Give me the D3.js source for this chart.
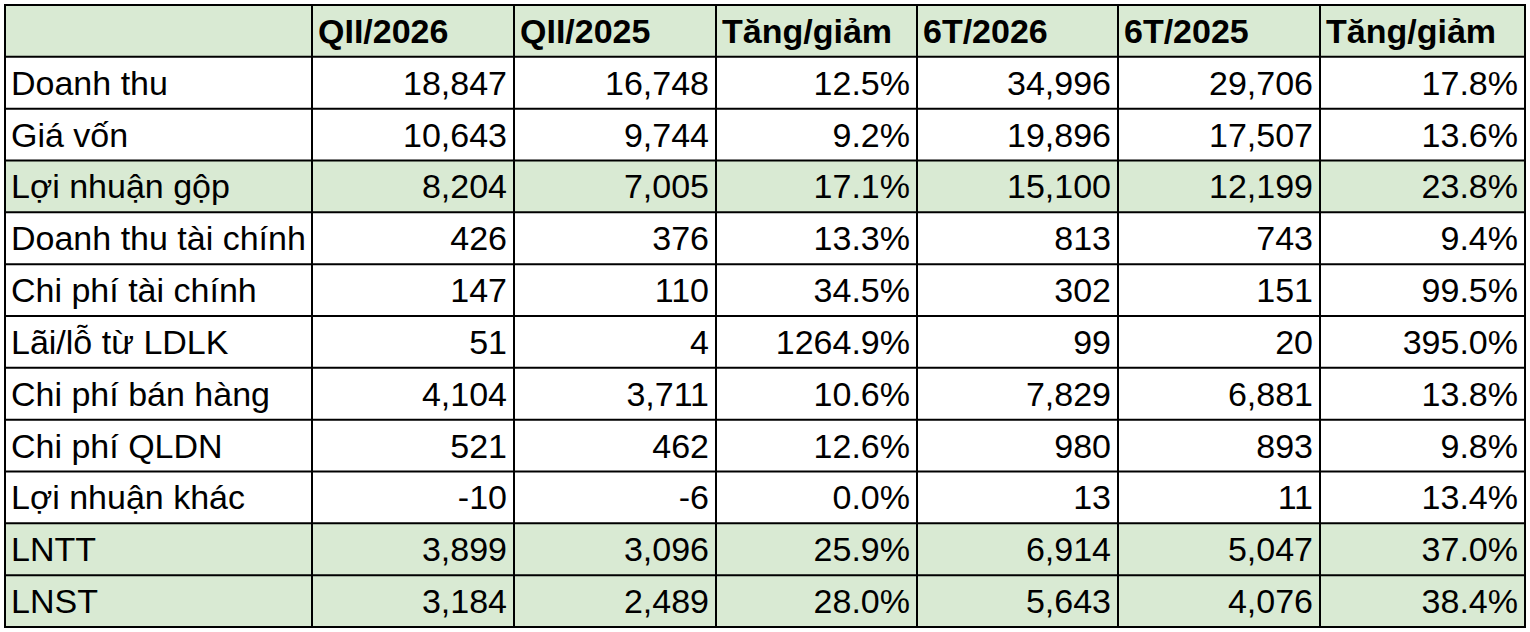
<!DOCTYPE html><html><head><meta charset="utf-8"><script src="https://cdn.jsdelivr.net/npm/d3@7"></script>
<style>body{margin:0;background:#fff}</style></head><body><svg id="c" width="1530" height="632"></svg>
<script>
const headers=["","QII/2026","QII/2025","Tăng/giảm","6T/2026","6T/2025","Tăng/giảm"];
const categories=["Doanh thu","Giá vốn","Lợi nhuận gộp","Doanh thu tài chính","Chi phí tài chính","Lãi/lỗ từ LDLK","Chi phí bán hàng","Chi phí QLDN","Lợi nhuận khác","LNTT","LNST"];
const q2026=["18,847","10,643","8,204","426","147","51","4,104","521","-10","3,899","3,184"];
const q2025=["16,748","9,744","7,005","376","110","4","3,711","462","-6","3,096","2,489"];
const qChg=["12.5%","9.2%","17.1%","13.3%","34.5%","1264.9%","10.6%","12.6%","0.0%","25.9%","28.0%"];
const h2026=["34,996","19,896","15,100","813","302","99","7,829","980","13","6,914","5,643"];
const h2025=["29,706","17,507","12,199","743","151","20","6,881","893","11","5,047","4,076"];
const hChg=["17.8%","13.6%","23.8%","9.4%","99.5%","395.0%","13.8%","9.8%","13.4%","37.0%","38.4%"];
const highlighted=["Lợi nhuận gộp","LNTT","LNST"];
const colEdges=[5,312,514,716,917,1118,1320,1525];
const svg=d3.select("#c");
const rowsData=[headers,...categories.map((c,i)=>[c,q2026[i],q2025[i],qChg[i],h2026[i],h2025[i],hChg[i]])];
const y=d3.scaleBand().domain(d3.range(rowsData.length)).range([5,627]);
rowsData.forEach((r,i)=>{
  const g=svg.append("g");
  const green=i===0||highlighted.includes(r[0]);
  if(green) g.append("rect").attr("x",colEdges[0]).attr("y",y(i)).attr("width",colEdges[7]-colEdges[0]).attr("height",y.bandwidth()).attr("fill","#d9ead3");
  r.forEach((t,j)=>{
    const isHead=i===0, left=j===0||isHead;
    g.append("text").attr("x",left?colEdges[j]+6:colEdges[j+1]-7).attr("y",y(i)+y.bandwidth()/2+12)
     .attr("text-anchor",left?"start":"end").attr("font-family","Liberation Sans, Arial, sans-serif")
     .attr("font-size",isHead?34:34).attr("font-weight",isHead?"bold":"normal").attr("fill","#000").text(t);
  });
});
const lines=svg.append("g").attr("stroke","#000").attr("stroke-width",2);
d3.range(rowsData.length+1).forEach(i=>{const yy=i<rowsData.length?y(i):627;lines.append("line").attr("x1",4).attr("x2",1526).attr("y1",yy).attr("y2",yy);});
colEdges.forEach(x=>lines.append("line").attr("x1",x).attr("x2",x).attr("y1",4).attr("y2",628));
</script></body></html>
